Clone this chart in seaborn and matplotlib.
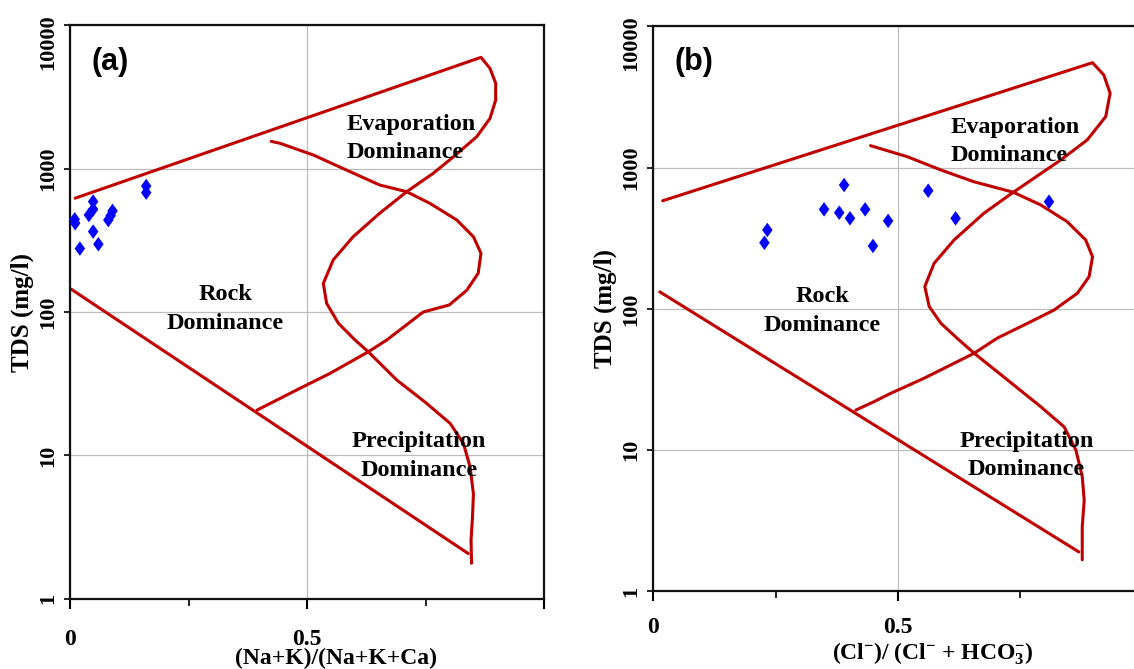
import numpy as np
import pandas as pd
import matplotlib
matplotlib.use("Agg")
import matplotlib.pyplot as plt
import matplotlib.transforms as mtransforms
import seaborn as sns

# ---- data ----
# panel (a): Na+K / (Na+K+Ca) vs TDS
a_pts_x = [0.009, 0.010, 0.020, 0.039, 0.048, 0.048, 0.048, 0.059, 0.080, 0.085, 0.089, 0.160, 0.160]
a_pts_y = [443, 416, 277, 475, 589, 520, 364, 297, 438, 470, 507, 756, 680]

a_outer_x = [0.010, 0.867, 0.886, 0.898, 0.898, 0.886, 0.858, 0.809, 0.766, 0.710, 0.653, 0.597,
             0.555, 0.534, 0.541, 0.566, 0.601, 0.629, 0.689, 0.752, 0.802, 0.830, 0.844, 0.851,
             0.849, 0.846, 0.847]
a_outer_y = [622, 5970, 5000, 3940, 3010, 2240, 1670, 1210, 927, 690, 488, 335,
             231, 158, 115, 83.4, 63.8, 52.8, 33.6, 23.1, 16.7, 12.1, 8.3, 5.4,
             3.7, 2.57, 1.77]
a_inner_x = [0.424, 0.443, 0.513, 0.583, 0.653, 0.710, 0.759, 0.816, 0.851, 0.867, 0.861, 0.837,
             0.800, 0.745, 0.668, 0.629, 0.548, 0.485, 0.443, 0.394]
a_inner_y = [1550, 1500, 1244, 977, 769, 690, 573, 438, 335, 257, 186, 142,
             112, 100, 63.8, 52.8, 37.3, 29.4, 25.0, 20.7]
a_lower_x = [0.002, 0.840]
a_lower_y = [144, 2.07]

# panel (b): Cl / (Cl + HCO3) vs TDS
b_pts_x = [0.227, 0.233, 0.349, 0.380, 0.390, 0.402, 0.433, 0.449, 0.480, 0.562, 0.618, 0.809]
b_pts_y = [294, 362, 507, 480, 754, 438, 507, 279, 420, 687, 438, 574]

b_outer_x = [0.019, 0.898, 0.921, 0.934, 0.925, 0.887, 0.833, 0.778, 0.736, 0.676, 0.615, 0.574,
             0.555, 0.564, 0.588, 0.621, 0.656, 0.724, 0.792, 0.840, 0.864, 0.877, 0.881, 0.877,
             0.877]
b_outer_y = [583, 5540, 4540, 3370, 2300, 1570, 1134, 841, 670, 476, 308, 210,
             144, 104, 79, 62, 48.5, 31.4, 20.3, 14.6, 10.0, 6.5, 4.4, 2.87,
             1.67]
b_inner_x = [0.444, 0.519, 0.588, 0.655, 0.736, 0.792, 0.846, 0.884, 0.898, 0.891, 0.867, 0.819,
             0.765, 0.703, 0.656, 0.553, 0.485, 0.451, 0.414]
b_inner_y = [1432, 1197, 963, 796, 670, 545, 415, 308, 234, 169, 129, 98,
             79, 62, 48.5, 32.2, 25.2, 22.0, 19.2]
b_lower_x = [0.013, 0.870]
b_lower_y = [132, 1.90]

y_ticks = [1, 10, 100, 1000, 10000]
y_tick_labels = ["1", "10", "100", "1000", "10000"]
x_ticks = [0, 0.5, 1]
x_tick_labels = ["0", "0.5", ""]

RED = "#C00000"
BLUE = "#0000FF"
DIAMOND = [(0, 1), (0.72, 0), (0, -1), (-0.72, 0), (0, 1)]

sns.set_style("white")
plt.rcParams["font.family"] = ["Liberation Serif", "DejaVu Serif"]
plt.rcParams["font.weight"] = "bold"
plt.rcParams["text.color"] = "black"
plt.rcParams["axes.labelcolor"] = "black"
plt.rcParams["xtick.color"] = "black"
plt.rcParams["ytick.color"] = "black"
plt.rcParams["mathtext.fontset"] = "custom"
plt.rcParams["mathtext.rm"] = "Liberation Serif:bold"
plt.rcParams["mathtext.bf"] = "Liberation Serif:bold"
plt.rcParams["mathtext.it"] = "Liberation Serif:bold:italic"
plt.rcParams["mathtext.default"] = "rm"


def draw_panel(fig, ax, pts_x, pts_y, curves, tag, xlabel, labels, xpad, xlab_pos, ylab_pos):
    ax.set_yscale("log")
    for cx, cy in curves:
        sns.lineplot(x=cx, y=cy, sort=False, estimator=None, color=RED,
                     linewidth=2.2, ax=ax)
    sns.scatterplot(x=pts_x, y=pts_y, marker=DIAMOND, s=110, color=BLUE,
                    edgecolor="none", ax=ax, zorder=5)

    ax.set_xlim(0, 1)
    ax.set_ylim(1, 10000)
    ax.set_xticks(x_ticks)
    ax.set_xticklabels(x_tick_labels)
    ax.set_xticks([0.25, 0.75], minor=True)
    ax.set_yticks(y_ticks)
    ax.set_yticklabels(y_tick_labels, rotation=90, va="center")
    ax.yaxis.set_minor_locator(matplotlib.ticker.NullLocator())

    ax.tick_params(axis="x", which="major", direction="out", length=7.5, width=1.5,
                   pad=xpad, labelsize=17, colors="black", bottom=True)
    ax.tick_params(axis="x", which="minor", direction="out", length=5, width=1.2,
                   colors="black", bottom=True)
    ax.tick_params(axis="y", which="major", direction="out", length=4, width=1.2,
                   pad=5, labelsize=16, colors="black", left=True)

    # the top label sits a bit lower than its tick, as in the original
    top_lab = ax.get_yticklabels()[-1]
    top_lab.set_transform(top_lab.get_transform() +
                          mtransforms.ScaledTranslation(0, -0.17, fig.dpi_scale_trans))

    ax.grid(True, which="major", color="#bdbdbd", linewidth=0.9)
    ax.set_axisbelow(True)
    for side in ["left", "bottom", "top", "right"]:
        ax.spines[side].set_visible(True)
        ax.spines[side].set_color("#111111")
        ax.spines[side].set_linewidth(1.6)

    ax.set_xlabel(xlabel, fontsize=17, fontweight="bold", color="black")
    ax.xaxis.set_label_coords(*xlab_pos)
    ax.set_ylabel("TDS (mg/l)", fontsize=18, fontweight="bold", color="black")
    ax.yaxis.set_label_coords(*ylab_pos)

    ax.text(tag[1], tag[2], tag[0], transform=ax.transAxes, fontsize=22,
            fontweight="bold", family="Liberation Sans", ha="center", va="center",
            color="black")
    for txt, x, y, ha in labels:
        ax.text(x, y, txt, fontsize=17.5, fontweight="bold", ha=ha, va="center",
                multialignment=ha, linespacing=1.45, color="black", zorder=6)


fig = plt.figure(figsize=(11.34, 6.69), dpi=100)
ax_a = fig.add_axes([0.0621, 0.1049, 0.4176, 0.8574])
ax_b = fig.add_axes([0.5762, 0.1162, 0.4312, 0.8442])

draw_panel(
    fig, ax_a, a_pts_x, a_pts_y,
    [(a_outer_x, a_outer_y), (a_inner_x, a_inner_y), (a_lower_x, a_lower_y)],
    ("(a)", 0.084, 0.936),
    "(Na+K)/(Na+K+Ca)",
    [("Evaporation\nDominance", 0.583, 1627, "left"),
     ("Rock\nDominance", 0.3275, 105, "center"),
     ("Precipitation\nDominance", 0.736, 9.9, "center")],
    14, (0.561, -0.086), (-0.077, 0.5),
)

draw_panel(
    fig, ax_b, b_pts_x, b_pts_y,
    [(b_outer_x, b_outer_y), (b_inner_x, b_inner_y), (b_lower_x, b_lower_y)],
    ("(b)", 0.083, 0.937),
    r"(Cl$^{-}$)/ (Cl$^{-}$ + HCO$_{3}^{-}$)",
    [("Evaporation\nDominance", 0.608, 1528, "left"),
     ("Rock\nDominance", 0.345, 96.7, "center"),
     ("Precipitation\nDominance", 0.763, 9.1, "center")],
    11, (0.572, -0.088), (-0.075, 0.5),
)

fig.savefig("out.png", dpi=100)
